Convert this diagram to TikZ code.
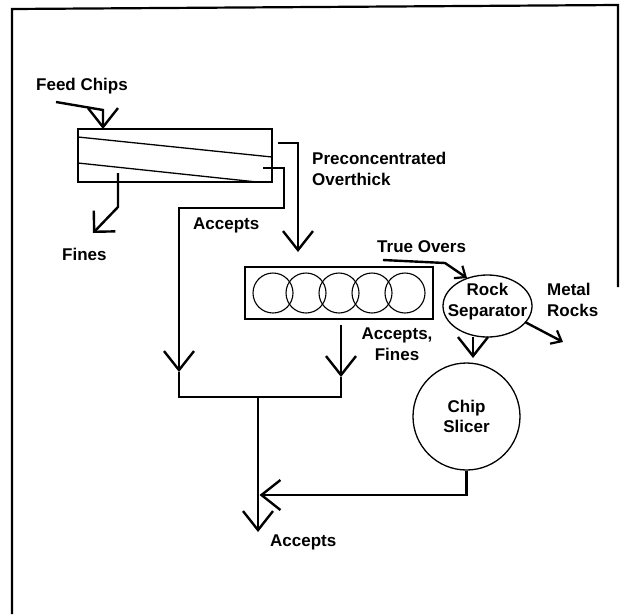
\documentclass[tikz,border=0pt]{standalone}
\usepackage{fontspec}
\setmainfont{Liberation Sans}
\usetikzlibrary{arrows.meta,shapes.geometric}
\begin{document}
\begin{tikzpicture}[x=1pt,y=-1pt,
  lbl/.style={font=\bfseries\fontsize{17}{20.5}\selectfont, inner sep=0pt},
  flow/.style={line width=2.4pt},
  bigtip/.style={-{Straight Barb[length=19pt,width=30pt,line width=2.4pt]}},
  midtip/.style={-{Straight Barb[length=15pt,width=30pt,line width=2.4pt]}},
  smalltip/.style={-{Straight Barb[length=9pt,width=15pt,line width=2.2pt]}},
  boxst/.style={draw, line width=1.6pt, inner sep=0pt, outer sep=0pt},
  roll/.style={draw, circle, line width=1.1pt, minimum size=40pt, inner sep=0pt}
]
\useasboundingbox (0,0) rectangle (620,614);
% frame
\draw[line width=2.2pt] (12,614) -- (12,9) -- (618,5) -- (618,287);

% primary screen
\node[boxst, minimum width=194pt, minimum height=53pt, anchor=north west] (screen) at (78,129) {};
\draw[line width=1.3pt] (78,137) -- (272,157);
\draw[line width=1.3pt] (78,163) -- (257,182);

% labels
\node[lbl, anchor=base west] (feed) at (36,90) {Feed Chips};
\node[lbl, anchor=base west] (fines) at (62,260) {Fines};
\node[lbl, anchor=base west] (acc1) at (193,229) {Accepts};
\node[lbl, anchor=north west, align=left] (preconc) at (312,152) {Preconcentrated\\Overthick};
\node[lbl, anchor=north west] (trueovers) at (377,240) {True Overs};
\node[lbl, anchor=north west, align=left] (metal) at (547,283) {Metal\\Rocks};
\node[lbl, anchor=north, align=center] (accfines) at (397,328) {Accepts,\\Fines};
\node[lbl, anchor=north west] (acc2) at (270,535) {Accepts};

% rotary screen
\node[boxst, minimum width=188pt, minimum height=52pt, anchor=north west] (rot) at (245,267) {};
\foreach \i in {0,...,4} \node[roll] (c\i) at (273+33*\i,293) {};

% rock separator
\node[draw, ellipse, line width=1.3pt, minimum width=89pt, minimum height=62pt, inner sep=0pt] (rocksep) at (487.5,306) {};
\node[lbl, anchor=north, align=center] (rocksepT) at (487.5,283) {Rock\\Separator};

% chip slicer
\node[draw, circle, line width=1.3pt, minimum size=107pt, inner sep=0pt, font=\bfseries\fontsize{17}{20.5}\selectfont, align=center] (slicer) at (466.5,416.5) {Chip\\Slicer};

% coordinates
\coordinate (feedin) at (56,102);
\coordinate (feedbend) at (103,110);
\coordinate (finesout) at (118,173);
\coordinate (finesbend) at (118,207);
\coordinate (finesend) at (93,233);
\coordinate (accout) at (263,168);
\coordinate (accA) at (284,168);
\coordinate (accB) at (284,208);
\coordinate (accC) at (179,208);
\coordinate (tipL) at (179,372);
\coordinate (jL) at (179,397);
\coordinate (jR) at (341,397);
\coordinate (jC) at (258,397);
\coordinate (tipR) at (341,377);
\coordinate (rotout) at (341,325);
\coordinate (preout) at (278,143);
\coordinate (prebend) at (298,143);
\coordinate (preend) at (298,252);
\coordinate (toin) at (383,260);
\coordinate (tobend) at (445,263);
\coordinate (toend) at (467,278);
\coordinate (rsout) at (473,337);
\coordinate (rsend) at (473,358);
\coordinate (mrout) at (525,322);
\coordinate (mrend) at (563,342);
\coordinate (slbend) at (466.5,495);
\coordinate (slend) at (259.5,495);
\coordinate (mainend) at (258,532);

% connectors
\draw[flow,bigtip] (feedin) -- (feedbend) -- (feedbend |- screen.north);
\draw[flow,midtip] (finesout) -- (finesbend) -- (finesend);
\draw[flow,bigtip] (accout) -- (accA) -- (accB) -- (accC) -- (tipL);
\draw[flow,bigtip] (preout) -- (prebend) -- (preend);
\draw[flow,bigtip] (rotout) -- (tipR);
\draw[flow] (tipL) -- (jL) -- (jR) -- (tipR);
\draw[flow,bigtip] (jC) -- (mainend);
\draw[flow,smalltip] (toin) -- (tobend) -- (toend);
\draw[flow,bigtip] (rsout) -- (rsend);
\draw[flow,smalltip] (mrout) -- (mrend);
\draw[flow,bigtip] (slicer.south) -- (slbend) -- (slend);
\end{tikzpicture}
\end{document}
